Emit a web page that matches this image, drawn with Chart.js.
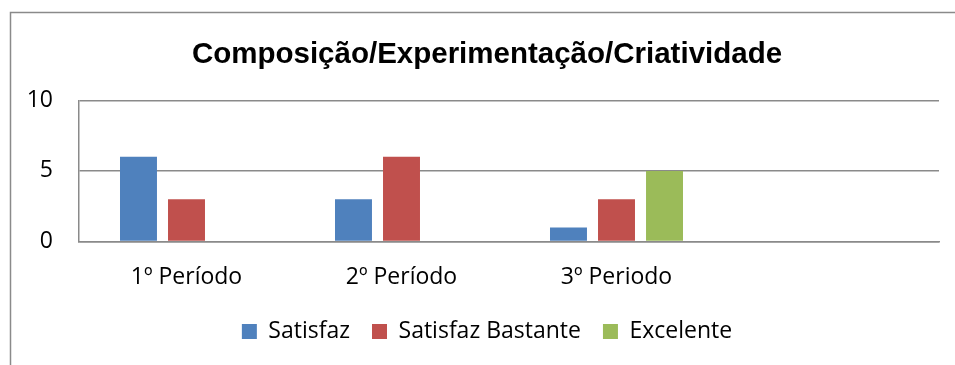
<!DOCTYPE html>
<html>
<head>
<meta charset="utf-8">
<script src="https://cdn.jsdelivr.net/npm/chart.js@4/dist/chart.umd.min.js"></script>
<style>
  html, body { margin: 0; padding: 0; background: #fff; }
  #wrap { width: 955px; height: 365px; }
</style>
</head>
<body>
<div id="wrap"><canvas id="barChart"></canvas></div>
<script>
// categories and series
const periodos = ['1º Período', '2º Período', '3º Periodo', ''];
const satisfaz = [6, 3, 1, null];
const satisfazBastante = [3, 6, 3, null];
const excelente = [0, 0, 5, null];
const yTicks = [0, 5, 10];

const gridGrey = '#8a8a8a';
const labelFont = { family: 'Open Sans', size: 23 };

// outer frame of the chart (left and top edges)
const framePlugin = {
    id: 'frame',
    afterDraw(chart) {
        const ctx = chart.ctx;
        ctx.save();
        ctx.strokeStyle = gridGrey;
        ctx.lineWidth = 1.5;
        ctx.beginPath();
        ctx.moveTo(10.5, chart.height);
        ctx.lineTo(10.5, 12.5);
        ctx.lineTo(chart.width, 12.5);
        ctx.stroke();
        ctx.restore();
    }
};

const ctx = document.getElementById('barChart').getContext('2d');
new Chart(ctx, {
    type: 'bar',
    data: {
        labels: periodos,
        datasets: [
            { label: 'Satisfaz', data: satisfaz, backgroundColor: '#4F81BD' },
            { label: 'Satisfaz Bastante', data: satisfazBastante, backgroundColor: '#C0504D' },
            { label: 'Excelente', data: excelente, backgroundColor: '#9BBB59' }
        ]
    },
    options: {
        responsive: true,
        maintainAspectRatio: false,
        animation: false,
        categoryPercentage: 0.67,
        barPercentage: 0.77,
        // the frame runs past the right edge, so the title/legend box does too
        layout: { padding: { left: 10, top: 12, right: -9, bottom: 12 } },
        plugins: {
            title: {
                display: true,
                text: 'Composição/Experimentação/Criatividade',
                color: '#000',
                font: { family: 'Liberation Sans', size: 29.5, weight: 'bold' },
                padding: { top: 25, bottom: 28 }
            },
            legend: {
                position: 'bottom',
                labels: {
                    color: '#000',
                    font: labelFont,
                    boxWidth: 15,
                    boxHeight: 15,
                    padding: 22
                }
            },
            tooltip: { enabled: false }
        },
        scales: {
            x: {
                grid: { display: false, drawTicks: false },
                border: { display: true, color: gridGrey, width: 1.5 },
                ticks: { color: '#000', font: labelFont, padding: 22, maxRotation: 0 },
                afterFit(scale) { scale.height = 56.5; }
            },
            y: {
                min: 0,
                max: 10,
                grid: { color: gridGrey, lineWidth: 1.5, drawTicks: false },
                border: { display: true, color: gridGrey, width: 1.5 },
                afterBuildTicks(scale) { scale.ticks = yTicks.map(v => ({ value: v })); },
                ticks: { color: '#000', font: labelFont, padding: 26 },
                afterFit(scale) { scale.width = 69; }
            },
            // empty margin to the right of the plot area
            yRight: {
                position: 'right',
                grid: { display: false, drawTicks: false },
                border: { display: false },
                ticks: { display: false },
                afterFit(scale) { scale.width = 25; }
            }
        }
    },
    plugins: [framePlugin]
});
</script>
</body>
</html>
